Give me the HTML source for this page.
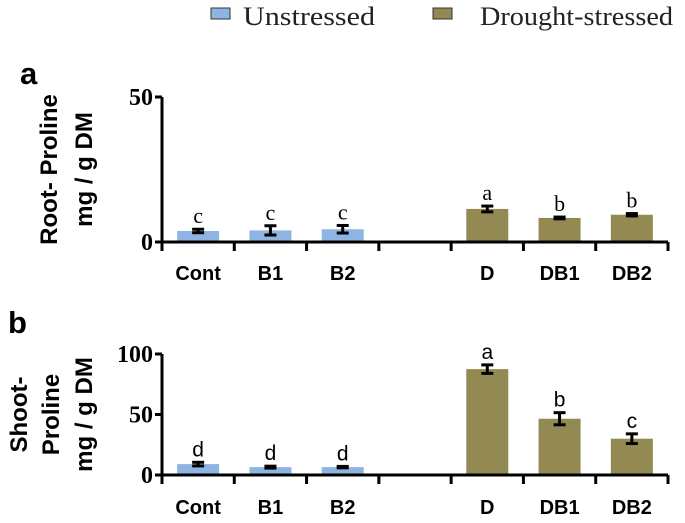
<!DOCTYPE html>
<html><head><meta charset="utf-8"><style>
body{margin:0;background:#fff;}
svg{display:block;}
.tick{font-family:"Liberation Serif",serif;font-weight:bold;font-size:24px;}
.xl{font-family:"Liberation Sans",sans-serif;font-weight:bold;font-size:20px;}
.yt{font-family:"Liberation Sans",sans-serif;font-weight:bold;font-size:24px;}
.sig{font-family:"Liberation Serif",serif;font-size:22px;}
.sigb{font-family:"Liberation Sans",sans-serif;font-size:21px;}
.leg{font-family:"Liberation Serif",serif;font-size:26px;fill:#222;}
</style></head><body>
<svg id="chart" width="685" height="523" viewBox="0 0 685 523" xmlns="http://www.w3.org/2000/svg">
<g>
  <rect x="211" y="8" width="19" height="11" fill="#8db4e2" stroke="#333" stroke-width="1"/>
  <text x="243" y="25" class="leg" textLength="132" lengthAdjust="spacingAndGlyphs">Unstressed</text>
  <rect x="433" y="8" width="19" height="11" fill="#938953" stroke="#333" stroke-width="1"/>
  <text x="480" y="25" class="leg" textLength="193" lengthAdjust="spacingAndGlyphs">Drought-stressed</text>
</g>
<text x="20" y="84" font-family="Liberation Sans,sans-serif" font-weight="bold" font-size="31">a</text>
<text x="8" y="333" font-family="Liberation Sans,sans-serif" font-weight="bold" font-size="31">b</text>
<g id="pa"></g>
<g id="pb"></g>
</svg>
<script>
const categories = ["Cont","B1","B2","D","DB1","DB2"];
const groups = ["u","u","u","d","d","d"];
const rootValues = [3.8, 4.0, 4.4, 11.4, 8.3, 9.4];
const rootErrors = [0.6, 1.6, 1.3, 1.0, 0.3, 0.4];
const rootLetters = ["c","c","c","a","b","b"];
const rootTicks = [0, 50];
const shootValues = [9, 6.5, 6.5, 87.5, 46.5, 30];
const shootErrors = [1.5, 0.8, 0.6, 3.5, 5, 4];
const shootLetters = ["d","d","d","a","b","c"];
const shootTicks = [0, 50, 100];

const NS = "http://www.w3.org/2000/svg";
const slotIdx = [0,1,2,4,5,6];
const colors = {u:"#8db4e2", d:"#938953"};
function mk(tag, attrs, parent){const e=document.createElementNS(NS,tag);for(const k in attrs)e.setAttribute(k,attrs[k]);parent.appendChild(e);return e;}

function panel(g, values, errors, letters, ticks, y0, yTop, yMax, xLabY, titleLines, sigClass){
  const x0=162, x1=668, slot=(x1-x0)/7;
  const y=v=>y0-(v/yMax)*(y0-yTop);
  const xc=i=>x0+slot*(slotIdx[i]+0.5);
  values.forEach((v,i)=>{
    const bw=42;
    const r=mk("rect",{x:xc(i)-bw/2,y:y(v),width:bw,height:y0-y(v),fill:colors[groups[i]]},g);
    
    
    const eg=mk("g",{stroke:"#000","stroke-width":3},g);
    
    
    const hi=y(v+errors[i]), lo=y(v-errors[i]);
    mk("line",{x1:xc(i),x2:xc(i),y1:hi,y2:lo},eg);
    mk("line",{x1:xc(i)-6,x2:xc(i)+6,y1:hi,y2:hi},eg);
    mk("line",{x1:xc(i)-6,x2:xc(i)+6,y1:lo,y2:lo},eg);
    const t=mk("text",{x:xc(i),y:hi-6,"text-anchor":"middle",class:sigClass},g);
    t.textContent=letters[i];
    
    
    const xl=mk("text",{x:xc(i),y:xLabY,"text-anchor":"middle",class:"xl"},g);
    xl.textContent=categories[i];
    
    
  });
  const ax=mk("g",{stroke:"#000","stroke-width":3,fill:"none"},g);
  
  
  mk("line",{x1:x0,x2:x0,y1:y(ticks[ticks.length-1]),y2:y0+1.5},ax);
  mk("line",{x1:x0-1.5,x2:x1,y1:y0,y2:y0},ax);
  for(let k=0;k<=7;k++) mk("line",{x1:x0+slot*k,x2:x0+slot*k,y1:y0,y2:y0+9},ax);
  ticks.forEach(tv=>{
    mk("line",{x1:x0-7,x2:x0,y1:y(tv),y2:y(tv)},ax);
    const t=mk("text",{x:x0-9,y:y(tv)+8,"text-anchor":"end",class:"tick"},g);
    t.textContent=tv;
    
    
  });
  const cy=(y0+yTop)/2;
  titleLines.forEach(([txt,x])=>{
    const t=mk("text",{x:x,y:cy,"text-anchor":"middle",class:"yt",transform:`rotate(-90 ${x} ${cy})`},g);
    t.textContent=txt;
    
    
  });
}
panel(document.getElementById("pa"), rootValues, rootErrors, rootLetters, rootTicks, 242, 97, 50, 280,
  [["Root- Proline",57],["mg / g DM",92]], "sig");
panel(document.getElementById("pb"), shootValues, shootErrors, shootLetters, shootTicks, 475, 354, 100, 514,
  [["Shoot-",27],["Proline",59],["mg / g DM",92]], "sigb");
</script>
</body></html>
